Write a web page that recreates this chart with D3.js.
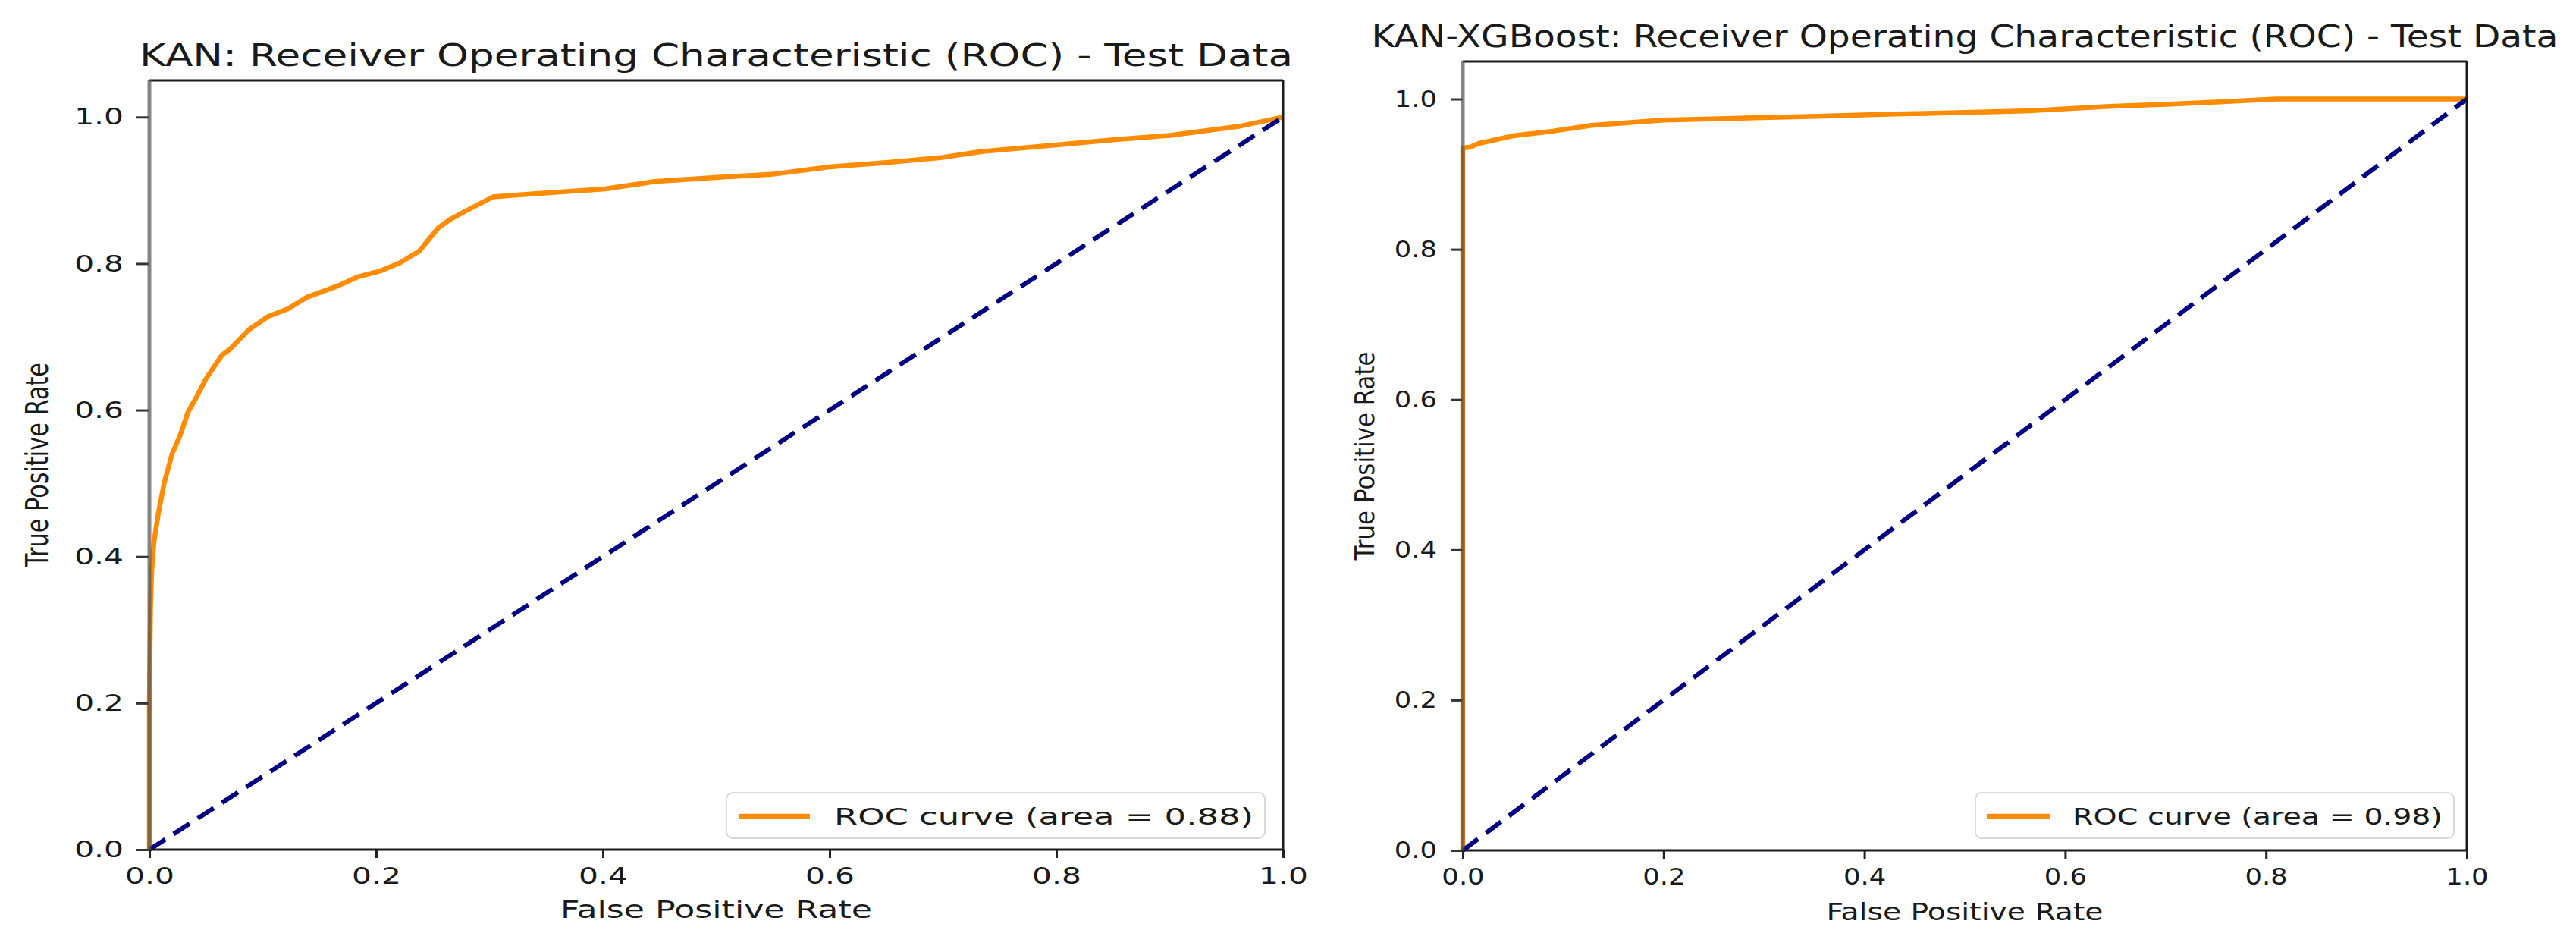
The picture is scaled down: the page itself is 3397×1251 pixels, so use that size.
<!DOCTYPE html>
<html>
<head>
<meta charset="utf-8">
<script src="https://cdn.jsdelivr.net/npm/d3@7/dist/d3.min.js"></script>
<style>
  html, body { margin: 0; padding: 0; background: #fff; }
  text { font-family: "DejaVu Sans", sans-serif; fill: #1a1a1a; }
</style>
</head>
<body>
<script>
// ---- data ----
var xTicks = [0, 0.2, 0.4, 0.6, 0.8, 1.0];
var yTicks = [0, 0.2, 0.4, 0.6, 0.8, 1.0];
var titles = [
  "KAN: Receiver Operating Characteristic (ROC) - Test Data",
  "KAN-XGBoost: Receiver Operating Characteristic (ROC) - Test Data"
];
var xLabel = "False Positive Rate";
var yLabel = "True Positive Rate";
var legendLabels = ["ROC curve (area = 0.88)", "ROC curve (area = 0.98)"];

var kanFpr = [0, 0, 0.001, 0.002, 0.004, 0.008, 0.013, 0.02, 0.027, 0.034, 0.042, 0.05, 0.064, 0.071,
  0.088, 0.105, 0.122, 0.139, 0.167, 0.184, 0.204, 0.221, 0.238, 0.255, 0.266, 0.283, 0.303, 0.327,
  0.402, 0.446, 0.504, 0.55, 0.6, 0.65, 0.7, 0.734, 0.8, 0.85, 0.9, 0.96, 0.988, 1];
var kanTpr = [0, 0.2, 0.33, 0.38, 0.42, 0.46, 0.5, 0.54, 0.565, 0.597, 0.619, 0.643, 0.675, 0.683,
  0.71, 0.728, 0.738, 0.754, 0.77, 0.782, 0.79, 0.801, 0.817, 0.849, 0.861, 0.875, 0.891, 0.894,
  0.902, 0.912, 0.918, 0.922, 0.932, 0.938, 0.945, 0.953, 0.962, 0.969, 0.975, 0.987, 0.996, 1];

var xgbFpr = [0, 0, 0.007, 0.016, 0.05, 0.088, 0.128, 0.2, 0.29, 0.354, 0.43, 0.5, 0.56, 0.64, 0.7, 0.75, 0.81, 1];
var xgbTpr = [0, 0.935, 0.936, 0.941, 0.951, 0.957, 0.965, 0.972, 0.975, 0.977, 0.98, 0.982, 0.984, 0.99, 0.993, 0.996, 1, 1];

var chance = [0, 1];

// ---- layout ----
var W = 3397, H = 1251;
var panels = [
  { fpr: kanFpr, tpr: kanTpr, title: titles[0], legend: legendLabels[0],
    left: 197, right: 1692, top: 106, bottom: 1120, sx: 1.36,
    titleY: 87, titleW: 1521, xLabelY: 1210, xLabelW: 411, yLabelX: 63, yLabelW: 270,
    yTick: 17, lgX: 958, lgW: 710, lgLine: [16, 110], lgText: 142, lgTextW: 553 },
  { fpr: xgbFpr, tpr: xgbTpr, title: titles[1], legend: legendLabels[1],
    left: 1929, right: 3253, top: 81, bottom: 1121, sx: 1.18,
    titleY: 62, titleW: 1565, xLabelY: 1213, xLabelW: 365, yLabelX: 1812, yLabelW: 275,
    yTick: 15, lgX: 2605, lgW: 631, lgLine: [15, 98], lgText: 128, lgTextW: 488 }
];

var svg = d3.select("body").append("svg")
  .attr("width", W).attr("height", H)
  .attr("viewBox", "0 0 " + W + " " + H);
svg.append("rect").attr("width", W).attr("height", H).attr("fill", "#fff");

panels.forEach(function (p) {
  var x = d3.scaleLinear().domain([0, 1]).range([p.left, p.right]);
  var y = d3.scaleLinear().domain([0, 1.05]).range([p.bottom, p.top]);
  var g = svg.append("g");

  /* curves */
  var line = d3.line().x(function (d) { return x(d[0]); }).y(function (d) { return y(d[1]); });
  g.append("path")
    .datum(d3.zip(p.fpr, p.tpr))
    .attr("d", line)
    .attr("fill", "none").attr("stroke", "#ff8c00").attr("stroke-width", 6.5)
    .attr("stroke-linejoin", "round");
  g.append("path")
    .datum(d3.zip(chance, chance))
    .attr("d", line)
    .attr("fill", "none").attr("stroke", "#000080").attr("stroke-width", 6)
    .attr("stroke-dasharray", "25,13");

  /* axes */
  var ax = g.append("g").attr("transform", "translate(0," + p.bottom + ")")
    .call(d3.axisBottom(x).tickValues(xTicks).tickFormat(d3.format(".1f")).tickSize(11).tickSizeOuter(0));
  ax.select(".domain").remove();
  ax.selectAll(".tick line").attr("stroke", "#222").attr("stroke-width", 3);
  ax.selectAll(".tick text")
    .attr("y", 0).attr("dy", null)
    .attr("transform", "translate(0,45) scale(" + p.sx + ",1)")
    .style("font-size", "30px").attr("fill", "#1a1a1a");

  var ay = g.append("g").attr("transform", "translate(" + p.left + ",0)")
    .call(d3.axisLeft(y).tickValues(yTicks).tickFormat(d3.format(".1f")).tickSize(p.yTick).tickSizeOuter(0));
  ay.select(".domain").remove();
  ay.selectAll(".tick line").attr("stroke", "#333").attr("stroke-width", 3);
  ay.selectAll(".tick text")
    .attr("x", 0)
    .attr("transform", "translate(-34,0) scale(" + p.sx + ",1)")
    .style("font-size", "30px").attr("fill", "#1a1a1a");

  /* spines */
  g.append("line").attr("x1", p.left).attr("x2", p.right).attr("y1", p.top).attr("y2", p.top)
    .attr("stroke", "#1a1a1a").attr("stroke-width", 3);
  g.append("line").attr("x1", p.right).attr("x2", p.right).attr("y1", p.top).attr("y2", p.bottom)
    .attr("stroke", "#1a1a1a").attr("stroke-width", 3);
  g.append("line").attr("x1", p.left).attr("x2", p.right).attr("y1", p.bottom).attr("y2", p.bottom)
    .attr("stroke", "#1a1a1a").attr("stroke-width", 3);
  g.append("line").attr("x1", p.left).attr("x2", p.left).attr("y1", p.top).attr("y2", p.bottom)
    .attr("stroke", "#555").attr("stroke-opacity", 0.72).attr("stroke-width", 5);

  /* legend */
  var lgY = 1045, lgH = 60;
  g.append("rect").attr("x", p.lgX).attr("y", lgY).attr("width", p.lgW).attr("height", lgH)
    .attr("rx", 8).attr("fill", "#fff").attr("fill-opacity", 0.8)
    .attr("stroke", "#d9d9d9").attr("stroke-width", 2);
  g.append("line")
    .attr("x1", p.lgX + p.lgLine[0]).attr("x2", p.lgX + p.lgLine[1])
    .attr("y1", lgY + 31).attr("y2", lgY + 31)
    .attr("stroke", "#ff8c00").attr("stroke-width", 6.5);
  g.append("text").attr("x", p.lgX + p.lgText).attr("y", lgY + 42)
    .attr("textLength", p.lgTextW).attr("lengthAdjust", "spacingAndGlyphs")
    .style("font-size", "30px").text(p.legend);

  /* titles and labels */
  var cx = (p.left + p.right) / 2;
  g.append("text").attr("x", cx).attr("y", p.titleY).attr("text-anchor", "middle")
    .attr("textLength", p.titleW).attr("lengthAdjust", "spacingAndGlyphs")
    .style("font-size", "40px").text(p.title);
  g.append("text").attr("x", cx).attr("y", p.xLabelY).attr("text-anchor", "middle")
    .attr("textLength", p.xLabelW).attr("lengthAdjust", "spacingAndGlyphs")
    .style("font-size", "32px").text(xLabel);
  g.append("text")
    .attr("transform", "translate(" + p.yLabelX + "," + ((p.top + p.bottom) / 2) + ") scale(" + p.sx + ",1) rotate(-90)")
    .attr("text-anchor", "middle")
    .attr("textLength", p.yLabelW).attr("lengthAdjust", "spacingAndGlyphs")
    .style("font-size", "30px").text(yLabel);
});
</script>
</body>
</html>
